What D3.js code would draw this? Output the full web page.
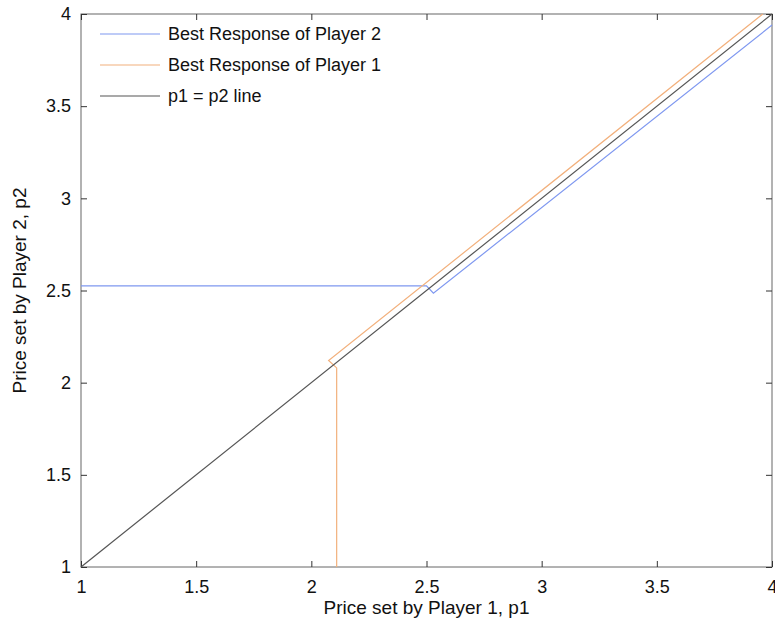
<!DOCTYPE html>
<html>
<head>
<meta charset="utf-8">
<script src="https://cdn.jsdelivr.net/npm/d3@7"></script>
<style>
  body { margin: 0; background: #fff; }
  text { font-family: "Liberation Sans", Arial, sans-serif; fill: #111; }
</style>
</head>
<body>
<div id="chart"></div>
<script>
// Best response of player 2: p2 as a function of p1
const br2P1 = [1, 2.50, 2.53, 4.0];
const br2P2 = [2.525, 2.525, 2.485, 3.94];

// Best response of player 1: p1 as a function of p2
const br1P2 = [1, 2.08, 2.12, 4.0];
const br1P1 = [2.11, 2.11, 2.075, 3.96];

// p1 = p2 line
const diagP = [1, 4];

const xTicks = [1, 1.5, 2, 2.5, 3, 3.5, 4];
const yTicks = [1, 1.5, 2, 2.5, 3, 3.5, 4];

const legendLabels = ["Best Response of Player 2", "Best Response of Player 1", "p1 = p2 line"];

const blue = "#7f98f0";
const orange = "#f2b07c";
const black = "#555";

const width = 775, height = 630;
const margin = {left: 81, right: 3, top: 14, bottom: 63};

const svg = d3.select("#chart")
  .append("svg")
  .attr("width", width)
  .attr("height", height);

const x = d3.scaleLinear().domain([1, 4]).range([margin.left, width - margin.right]);
const y = d3.scaleLinear().domain([1, 4]).range([height - margin.bottom, margin.top]);

const line = d3.line().x(d => x(d[0])).y(d => y(d[1]));

// frame
svg.append("rect")
  .attr("x", x(1))
  .attr("y", y(4))
  .attr("width", x(4) - x(1))
  .attr("height", y(1) - y(4))
  .attr("fill", "none")
  .attr("stroke", "#666")
  .attr("stroke-width", 1);

// axes, ticks pointing inward
const tickLen = 6;
svg.append("g")
  .attr("transform", `translate(0,${y(1)})`)
  .call(d3.axisBottom(x).tickValues(xTicks).tickSize(-tickLen).tickPadding(10).tickFormat(d3.format("")))
  .call(g => g.select(".domain").remove())
  .call(g => g.selectAll("line").attr("stroke", "#333"))
  .call(g => g.selectAll("text").attr("font-size", "18px").attr("dy", "0.9em"));

svg.append("g")
  .attr("transform", `translate(0,${y(4)})`)
  .call(d3.axisTop(x).tickValues(xTicks).tickSize(-tickLen).tickFormat(""))
  .call(g => g.select(".domain").remove())
  .call(g => g.selectAll("line").attr("stroke", "#333"));

svg.append("g")
  .attr("transform", `translate(${x(1)},0)`)
  .call(d3.axisLeft(y).tickValues(yTicks).tickSize(-tickLen).tickPadding(10).tickFormat(d3.format("")))
  .call(g => g.select(".domain").remove())
  .call(g => g.selectAll("line").attr("stroke", "#333"))
  .call(g => g.selectAll("text").attr("font-size", "18px"));

svg.append("g")
  .attr("transform", `translate(${x(4)},0)`)
  .call(d3.axisRight(y).tickValues(yTicks).tickSize(-tickLen).tickFormat(""))
  .call(g => g.select(".domain").remove())
  .call(g => g.selectAll("line").attr("stroke", "#333"));

// series
svg.append("path")
  .datum(d3.zip(br2P1, br2P2))
  .attr("d", line)
  .attr("fill", "none")
  .attr("stroke", blue)
  .attr("stroke-width", 1.2);

svg.append("path")
  .datum(d3.zip(br1P1, br1P2))
  .attr("d", line)
  .attr("fill", "none")
  .attr("stroke", orange)
  .attr("stroke-width", 1.2);

svg.append("path")
  .datum(d3.zip(diagP, diagP))
  .attr("d", line)
  .attr("fill", "none")
  .attr("stroke", black)
  .attr("stroke-width", 1.2);

// legend
const legendColors = [blue, orange, black];
const legend = svg.append("g").attr("transform", "translate(100,34)");
legendLabels.forEach((lab, i) => {
  const row = legend.append("g").attr("transform", `translate(0,${i * 31})`);
  row.append("line")
    .attr("x1", 0).attr("x2", 60)
    .attr("stroke", legendColors[i])
    .attr("stroke-width", 1.2);
  row.append("text")
    .attr("x", 68)
    .attr("dy", "0.35em")
    .attr("font-size", "18px")
    .text(lab);
});

// axis titles
svg.append("text")
  .attr("x", (x(1) + x(4)) / 2)
  .attr("y", 614)
  .attr("text-anchor", "middle")
  .attr("font-size", "19px")
  .text("Price set by Player 1, p1");

svg.append("text")
  .attr("transform", `translate(26,${(y(1) + y(4)) / 2}) rotate(-90)`)
  .attr("text-anchor", "middle")
  .attr("font-size", "19px")
  .text("Price set by Player 2, p2");
</script>
</body>
</html>
